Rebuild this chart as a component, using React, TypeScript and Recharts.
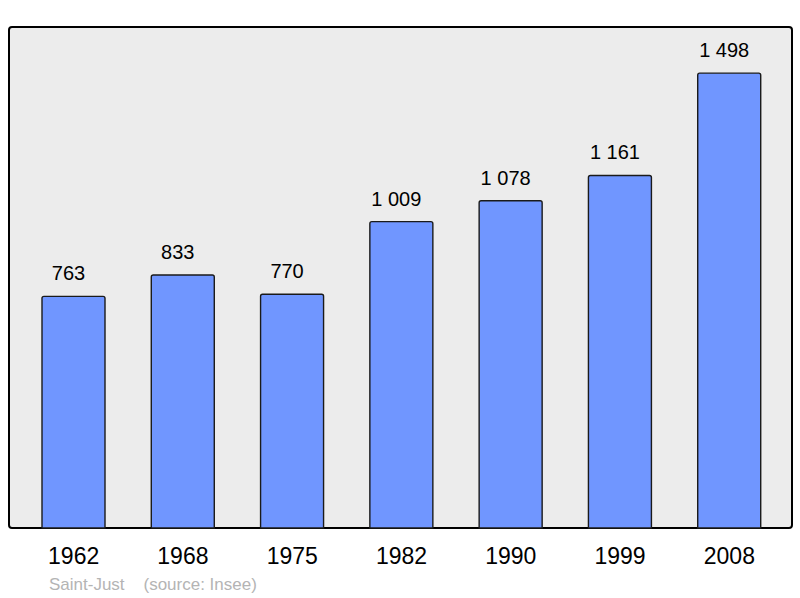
import { BarChart, Bar, XAxis, YAxis, LabelList, ReferenceArea } from "recharts";

const years = ["1962", "1968", "1975", "1982", "1990", "1999", "2008"];
const population = [763, 833, 770, 1009, 1078, 1161, 1498];

const data = years.map((year, i) => ({ year, pop: population[i] }));

const fmt = (v: number) => String(v).replace(/\B(?=(\d{3})+(?!\d))/g, " ");

export default function App() {
  return (
    <div
      style={{
        position: "absolute",
        left: 0,
        top: 0,
        width: 800,
        height: 598,
        background: "#fff",
        fontFamily: "'Liberation Sans', Arial, sans-serif",
      }}
    >
      <BarChart
        width={800}
        height={598}
        data={data}
        margin={{ top: 27, right: 8, left: 9, bottom: 40 }}
        barSize={63}
      >
        <XAxis
          dataKey="year"
          height={30}
          axisLine={false}
          tickLine={false}
          tickSize={0}
          tickMargin={20}
          padding={{ left: 10, right: 8 }}
          tick={{ fill: "#000", fontSize: 23 }}
        />
        <XAxis xAxisId="bg" dataKey="year" hide />
        <YAxis hide domain={[0, 1650]} />
        <ReferenceArea
          xAxisId="bg"
          y1={0}
          y2={1650}
          fill="#ececec"
          fillOpacity={1}
          stroke="#000"
          strokeWidth={2}
          radius={3}
          ifOverflow="visible"
        />
        <Bar
          dataKey="pop"
          fill="#7096ff"
          stroke="#1a1a1a"
          strokeWidth={1.4}
          radius={[2, 2, 0, 0]}
          isAnimationActive={false}
        >
          <LabelList
            dataKey="pop"
            position="top"
            offset={16}
            dx={-5}
            formatter={(v: any) => fmt(Number(v))}
            style={{ fill: "#000", fontSize: 20 }}
          />
        </Bar>
      </BarChart>
      <div
        style={{
          position: "absolute",
          left: 49,
          top: 575,
          fontSize: 17,
          color: "#b4b4b4",
          whiteSpace: "pre",
        }}
      >
        {"Saint-Just    (source: Insee)"}
      </div>
    </div>
  );
}
